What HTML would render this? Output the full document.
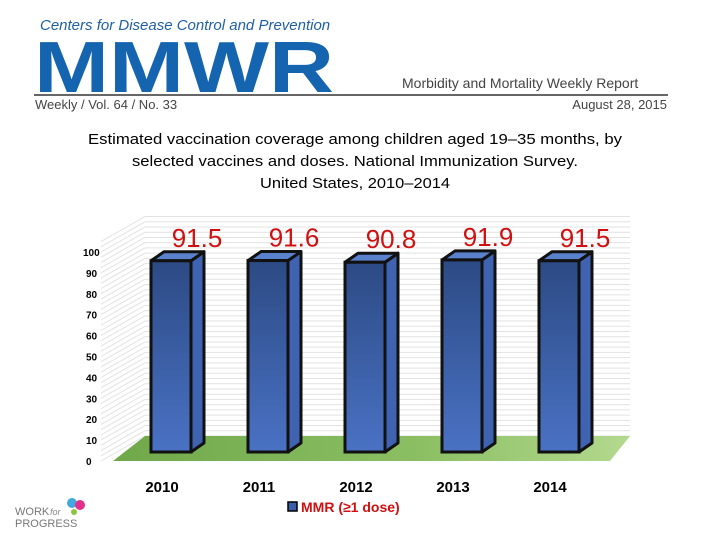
<!DOCTYPE html>
<html><head><meta charset="utf-8"><style>
body{margin:0;background:#fff;width:720px;height:540px;overflow:hidden;font-family:"Liberation Sans",sans-serif}
svg{display:block}
</style></head><body>
<svg width="720" height="540">
<defs>
<linearGradient id="bf" x1="0" y1="0" x2="0" y2="1"><stop offset="0" stop-color="#2c4a84"/><stop offset="1" stop-color="#4a72c4"/></linearGradient>
<linearGradient id="fl" x1="0" y1="0" x2="1" y2="0"><stop offset="0" stop-color="#6fa84a"/><stop offset="0.6" stop-color="#8cbf64"/><stop offset="1" stop-color="#b3d98e"/></linearGradient>
</defs>
<g>
<text x="40" y="30" font-size="15" font-style="italic" fill="#1f5fa6">Centers for Disease Control and Prevention</text>
<text x="34" y="92" font-size="72" font-weight="bold" fill="#1464b0" textLength="300" lengthAdjust="spacingAndGlyphs">MMWR</text>
<text x="402" y="88" font-size="14" fill="#444">Morbidity and Mortality Weekly Report</text>
<line x1="34" y1="95" x2="668" y2="95" stroke="#333" stroke-width="1.5"/>
<text x="35" y="109" font-size="13" fill="#444">Weekly / Vol. 64 / No. 33</text>
<text x="667" y="109" font-size="13" fill="#444" text-anchor="end">August 28, 2015</text>
</g>
<g font-size="15" text-anchor="middle" fill="#000">
<text x="355" y="144" textLength="534" lengthAdjust="spacingAndGlyphs">Estimated vaccination coverage among children aged 19–35 months, by</text>
<text x="355" y="166" textLength="446" lengthAdjust="spacingAndGlyphs">selected vaccines and doses. National Immunization Survey.</text>
<text x="355" y="188" textLength="190" lengthAdjust="spacingAndGlyphs">United States, 2010–2014</text>
</g>
<g id="wall"></g>
<polygon points="113,461 145,436 630,436 610,461" fill="url(#fl)"/>
<g id="yaxis"></g>
<g id="bars"></g>
<g>
<rect x="288" y="502" width="9" height="9" fill="#3b5ea8" stroke="#000" stroke-width="1.5"/>
<text x="301" y="512" font-size="14" font-weight="bold" fill="#d01010">MMR (≥1 dose)</text>
</g>
<g>
<circle cx="72" cy="503" r="5" fill="#3fa9e0"/><circle cx="80" cy="505" r="5" fill="#e0308a"/><circle cx="74" cy="512" r="3" fill="#8cc63f"/>
<text x="15" y="515" font-size="11" fill="#777">WORK</text>
<text x="50" y="515" font-size="9" font-style="italic" fill="#888">for</text>
<text x="15" y="527" font-size="11" fill="#777">PROGRESS</text>
</g>
</svg>
<script>
const categories=["2010","2011","2012","2013","2014"];
const values=[91.5,91.6,90.8,91.9,91.5];
const yTicks=[0,10,20,30,40,50,60,70,80,90,100];
const NS="http://www.w3.org/2000/svg";
const y0=452,k=2.09,dx=13,dy=-9;
function yS(v){return y0-v*k;}
function xS(i){return 151+i*97;}
function mk(t,a,p){const e=document.createElementNS(NS,t);for(const n in a)e.setAttribute(n,a[n]);p.appendChild(e);return e;}
const wall=document.getElementById('wall');
for(let v=0;v<=105;v+=2.5){const y=yS(v)-16;
mk('line',{x1:145,y1:y,x2:630,y2:y,stroke:'#e2e2e2','stroke-width':1},wall);
mk('line',{x1:101,y1:y+25,x2:145,y2:y,stroke:'#e2e2e2','stroke-width':1},wall);}
const ya=document.getElementById('yaxis');
yTicks.forEach(v=>{const t=mk('text',{x:v===100?83:86,y:yS(v)+13,'font-size':10,'font-weight':'bold'},ya);


t.textContent=v;});
const bg=document.getElementById('bars');
values.forEach((v,i)=>{const x=xS(i),w=40,top=yS(v);
const g=mk('g',{},bg);


mk('polygon',{points:`${x+w},${top} ${x+w+dx},${top+dy} ${x+w+dx},${y0+dy} ${x+w},${y0}`,fill:'#3f63b0',stroke:'#111','stroke-width':3,'stroke-linejoin':'round'},g);
mk('polygon',{points:`${x},${top} ${x+dx},${top+dy} ${x+w+dx},${top+dy} ${x+w},${top}`,fill:'#5a82cc',stroke:'#111','stroke-width':3,'stroke-linejoin':'round'},g);
mk('rect',{x:x,y:top,width:w,height:y0-top,fill:'url(#bf)',stroke:'#111','stroke-width':3},g);
const l=mk('text',{x:x+46,y:top-14,'font-size':26,fill:'#d01010','text-anchor':'middle'},bg);


l.textContent=v.toFixed(1);
const c=mk('text',{x:x+11,y:492,'font-size':15,'font-weight':'bold','text-anchor':'middle'},bg);


c.textContent=categories[i];
});
</script>
</body></html>
